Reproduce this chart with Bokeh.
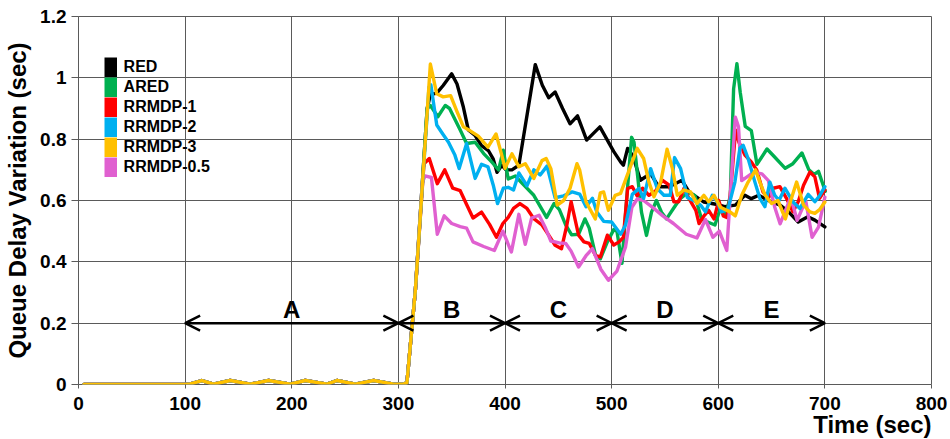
from bokeh.plotting import figure
from bokeh.models import (Range1d, FixedTicker, CustomJSTickFormatter, Legend, LegendItem,
                          Arrow, OpenHead, Title)
from bokeh.core.properties import value
from bokeh.embed import file_html
from bokeh.resources import INLINE

# ---------------- data ----------------
# shared start of every series (idle phase + onset of the load step)
BASE_T = [5, 100, 105, 115.7, 126.6, 142.3, 161.1, 178.3, 198.6, 212.7, 233, 242.4,
          259.6, 276.8, 295.6, 305, 308, 316]
BASE_Y = [0, 0, 0.002, 0.013, 0.001, 0.013, 0.001, 0.013, 0.001, 0.013, 0.001, 0.013,
          0.001, 0.013, 0.001, 0.002, 0.005, 0.31]

RED_T = [327, 330, 336, 342, 350, 355, 361, 365.6, 372, 378, 384.4, 389, 392.5, 397, 401,
         406.5, 413, 428.4, 435, 441, 447, 454, 461, 468, 476.6, 489, 501.9, 508.4, 511,
         515, 520, 527, 536.6, 544, 554, 566, 572.6, 586.6, 599, 606, 616, 625, 631, 638,
         647, 658, 666, 675, 684, 690.6, 700]
RED_Y = [0.90, 0.945, 0.95, 0.975, 1.013, 0.98, 0.904, 0.83, 0.812, 0.779, 0.763, 0.735,
         0.692, 0.715, 0.70, 0.70, 0.715, 1.043, 0.976, 0.935, 0.954, 0.90, 0.85, 0.876,
         0.797, 0.84, 0.76, 0.726, 0.715, 0.77, 0.745, 0.666, 0.688, 0.645, 0.645, 0.666,
         0.628, 0.595, 0.587, 0.58, 0.585, 0.617, 0.606, 0.617, 0.60, 0.585, 0.563, 0.53,
         0.547, 0.536, 0.514]

ARED_T = [327, 330, 337, 344, 348, 358, 364, 372, 380, 387.5, 394, 398.4, 403, 409.7, 415,
          427, 439, 446, 451, 457, 462.5, 469, 475, 479, 485, 489.4, 496, 502, 505, 509.7,
          514, 518.7, 521, 525, 528, 532.7, 537.4, 542, 546.8, 551.5, 557.8, 564, 571.9,
          578, 584.3, 590.6, 596.9, 602, 607, 611.3, 614.4, 617.5, 620.6, 625.3, 631,
          636.3, 645.7, 652, 662.8, 670, 678.5, 685, 690, 694, 700.4]
ARED_Y = [0.90, 0.91, 0.873, 0.91, 0.90, 0.83, 0.786, 0.79, 0.753, 0.726, 0.70, 0.764,
          0.67, 0.68, 0.66, 0.617, 0.545, 0.59, 0.57, 0.52, 0.488, 0.49, 0.54, 0.51, 0.42,
          0.41, 0.465, 0.505, 0.50, 0.395, 0.60, 0.806, 0.79, 0.66, 0.562, 0.486, 0.562,
          0.60, 0.562, 0.54, 0.573, 0.605, 0.627, 0.616, 0.54, 0.529, 0.52, 0.575, 0.55,
          0.616, 0.964, 1.046, 0.953, 0.842, 0.828, 0.718, 0.768, 0.745, 0.705, 0.72,
          0.755, 0.70, 0.685, 0.695, 0.63]

RR1_T = [324, 329, 336.5, 343.5, 351, 358, 364, 370, 378, 385.5, 392, 398, 403, 408, 414,
         420.6, 427, 434.7, 441, 447, 453, 458, 462, 465, 469, 474, 479, 485, 489.5, 496,
         502, 507, 511, 515, 519.4, 524, 529, 535, 541, 547.5, 554, 558.4, 563, 568,
         572.5, 579, 582, 586.6, 591, 596, 600.5, 604.7, 608, 611, 616.25, 619.4, 625,
         631, 636, 642, 647, 651.6, 657.8, 664, 670, 675, 680, 686, 690.6, 695, 700]
RR1_Y = [0.72, 0.737, 0.655, 0.70, 0.64, 0.632, 0.587, 0.543, 0.562, 0.522, 0.48, 0.525,
         0.545, 0.574, 0.59, 0.574, 0.541, 0.52, 0.487, 0.454, 0.443, 0.52, 0.596, 0.55,
         0.487, 0.465, 0.46, 0.42, 0.416, 0.487, 0.455, 0.465, 0.48, 0.639, 0.645, 0.615,
         0.64, 0.617, 0.63, 0.666, 0.65, 0.596, 0.596, 0.64, 0.607, 0.568, 0.525, 0.55,
         0.568, 0.54, 0.60, 0.55, 0.545, 0.607, 0.829, 0.79, 0.748, 0.726, 0.70, 0.628,
         0.607, 0.64, 0.645, 0.607, 0.563, 0.596, 0.65, 0.693, 0.677, 0.607, 0.634]

RR2_T = [328.7, 330.5, 336, 341, 347, 353, 357, 364, 372, 378, 384, 389, 393, 398.4, 403,
         408, 413, 420.6, 427, 433, 439.4, 447, 455, 463, 470, 476, 482, 486, 492.5, 500,
         508.5, 513, 519.4, 525.6, 530, 536.6, 542.8, 549, 555, 559, 564.7, 571, 577,
         583.4, 588, 594.4, 599, 603, 609, 615.6, 620.3, 623.4, 628, 634.4, 639, 643.75,
         648.4, 653, 657, 662.5, 670, 676.6, 684.4, 690.6, 695, 700]
RR2_Y = [0.97, 0.977, 0.846, 0.82, 0.79, 0.748, 0.704, 0.786, 0.672, 0.718, 0.71, 0.65,
         0.59, 0.64, 0.643, 0.634, 0.69, 0.648, 0.70, 0.683, 0.712, 0.609, 0.615, 0.628,
         0.621, 0.58, 0.607, 0.563, 0.532, 0.53, 0.49, 0.52, 0.62, 0.639, 0.607, 0.704,
         0.639, 0.617, 0.617, 0.74, 0.704, 0.61, 0.60, 0.585, 0.563, 0.617, 0.596, 0.563,
         0.57, 0.66, 0.77, 0.78, 0.737, 0.66, 0.607, 0.58, 0.66, 0.617, 0.60, 0.64,
         0.596, 0.574, 0.62, 0.596, 0.615, 0.645]

RR3_T = [330, 336, 342, 349, 355, 361, 367, 375, 384, 391.6, 397, 400, 406.5, 413, 419,
         427, 434.7, 438.6, 443, 449, 455, 461, 467.5, 470, 476, 484.7, 489.4, 492.5, 497,
         503.4, 508.4, 514.7, 524, 530, 535, 539.7, 546, 552, 557, 561.6, 567.8, 574, 580,
         586.5, 591, 596, 602, 611, 616, 622, 628, 635, 639, 644, 650, 656, 663, 668,
         673.5, 680, 686, 690.6, 695, 700]
RR3_Y = [1.045, 0.948, 0.938, 0.942, 0.89, 0.84, 0.828, 0.81, 0.774, 0.817, 0.747, 0.705,
         0.752, 0.71, 0.72, 0.672, 0.73, 0.737, 0.704, 0.585, 0.60, 0.64, 0.72, 0.70,
         0.595, 0.54, 0.625, 0.628, 0.568, 0.617, 0.623, 0.683, 0.77, 0.737, 0.66, 0.612,
         0.66, 0.767, 0.704, 0.617, 0.634, 0.628, 0.59, 0.617, 0.596, 0.617, 0.578, 0.563,
         0.55, 0.617, 0.66, 0.70, 0.66, 0.617, 0.59, 0.60, 0.54, 0.60, 0.66, 0.585, 0.563,
         0.558, 0.57, 0.595]

RR05_T = [322.5, 325, 331, 336.5, 343, 350, 358, 364, 370, 380, 390, 398, 406, 413, 419,
          425, 432, 438, 443, 451, 457, 462, 469, 476, 482, 490, 497, 505, 513, 519, 524,
          530, 539, 548, 558, 570, 580, 588, 595, 601, 608, 616, 619, 622, 633, 641, 647,
          653, 658, 663, 668, 674, 682, 688, 694, 700]
RR05_Y = [0.66, 0.68, 0.675, 0.49, 0.55, 0.525, 0.515, 0.51, 0.465, 0.45, 0.437, 0.50,
          0.432, 0.555, 0.457, 0.543, 0.552, 0.51, 0.468, 0.462, 0.46, 0.435, 0.383, 0.42,
          0.443, 0.375, 0.34, 0.37, 0.448, 0.578, 0.605, 0.60, 0.576, 0.55, 0.525, 0.49,
          0.478, 0.538, 0.48, 0.50, 0.437, 0.872, 0.84, 0.665, 0.692, 0.687, 0.665, 0.578,
          0.524, 0.567, 0.611, 0.535, 0.60, 0.48, 0.513, 0.611]

SERIES = ["RED", "ARED", "RRMDP-1", "RRMDP-2", "RRMDP-3", "RRMDP-0.5"]
COLORS = ["#000000", "#00B050", "#FF0000", "#00B0F0", "#FFC000", "#E060D0"]
SERIES_T = [RED_T, ARED_T, RR1_T, RR2_T, RR3_T, RR05_T]
SERIES_Y = [RED_Y, ARED_Y, RR1_Y, RR2_Y, RR3_Y, RR05_Y]

SECTION_BOUNDS = [100, 300, 400, 500, 600, 700]
SECTION_LABELS = ["A", "B", "C", "D", "E"]
ARROW_LEVEL = 0.2

X_TICKS = [0, 100, 200, 300, 400, 500, 600, 700, 800]
Y_TICKS = [0, 0.2, 0.4, 0.6, 0.8, 1.0, 1.2]

# ---------------- figure ----------------
FONT = "Liberation Sans"
GRID = "#5a5a5a"

p = figure(width=950, height=439, x_range=Range1d(0, 800), y_range=Range1d(0, 1.2),
           output_backend="svg", toolbar_location=None,
           min_border_left=78, min_border_right=19, min_border_top=16, min_border_bottom=55)
p.background_fill_color = "white"
p.border_fill_color = "white"
p.outline_line_color = GRID

for ax in (p.xaxis[0], p.yaxis[0]):
    ax.axis_line_color = GRID
    ax.major_tick_line_color = GRID
    ax.minor_tick_line_color = None
    ax.major_tick_in = 0
    ax.major_label_text_font = FONT
    ax.major_label_text_font_style = "bold"
    ax.major_label_text_font_size = "19px"
    ax.major_label_text_color = "black"
    ax.axis_label_text_font = FONT
    ax.axis_label_text_font_style = "bold"
    ax.axis_label_text_font_size = "24px"
    ax.axis_label_text_color = "black"

p.xaxis.axis_line_color = None
p.xaxis.ticker = FixedTicker(ticks=X_TICKS)
p.yaxis.ticker = FixedTicker(ticks=Y_TICKS)
p.xgrid.ticker = FixedTicker(ticks=X_TICKS)
p.ygrid.ticker = FixedTicker(ticks=Y_TICKS)
p.yaxis.formatter = CustomJSTickFormatter(code="return String(Math.round(tick*10)/10);")
p.xaxis.major_tick_out = 4
p.yaxis.major_tick_out = 7
p.xaxis.major_label_standoff = 8
p.yaxis.major_label_standoff = 5

p.yaxis.axis_label = "Queue Delay Variation (sec)"
p.yaxis.axis_label_standoff = 6

for g in (p.xgrid[0], p.ygrid[0]):
    g.grid_line_color = GRID
    g.grid_line_width = 1

# x-axis title, right-aligned under the last tick label
p.add_layout(Title(text="Time (sec)", align="right", standoff=-8,
                   text_font=FONT, text_font_style="bold", text_font_size="24px",
                   text_color="black"), "below")

# data lines (drawing order chosen so orange ends up on top of the idle phase)
order = [0, 1, 2, 5, 3, 4]
for i in order:
    p.line(BASE_T + SERIES_T[i], BASE_Y + SERIES_Y[i], line_color=COLORS[i],
           line_width=3.4, line_join="round", line_cap="round")

# section arrows and labels
for a, b in zip(SECTION_BOUNDS[:-1], SECTION_BOUNDS[1:]):
    p.add_layout(Arrow(start=OpenHead(size=15, line_width=2.5, line_color="black"),
                       end=OpenHead(size=15, line_width=2.5, line_color="black"),
                       x_start=a, y_start=ARROW_LEVEL, x_end=b, y_end=ARROW_LEVEL,
                       line_width=2.5, line_color="black"))
mids = [(a + b) / 2 for a, b in zip(SECTION_BOUNDS[:-1], SECTION_BOUNDS[1:])]
p.text(x=mids, y=[ARROW_LEVEL] * len(mids), text=SECTION_LABELS,
       text_font=value(FONT), text_font_style="bold", text_font_size="24px",
       text_align="center", text_baseline="bottom", text_color="black")

# legend with solid colour blocks (placeholder renderers draw nothing in the plot)
nan = float("nan")
items = []
for name, col in zip(SERIES, COLORS):
    r = p.line(x=[nan], y=[nan], line_color=col, line_width=20, line_cap="butt")
    items.append(LegendItem(label=name, renderers=[r]))
legend = Legend(items=items, location=(25.6, 206.7), padding=0, margin=0, spacing=0,
                glyph_width=13, glyph_height=20, label_height=20, label_standoff=7,
                border_line_color=None, background_fill_alpha=0,
                label_text_font=FONT, label_text_font_style="bold",
                label_text_font_size="16px", label_text_color="black")
p.add_layout(legend)

open("out.html", "w").write(file_html(p, INLINE))
